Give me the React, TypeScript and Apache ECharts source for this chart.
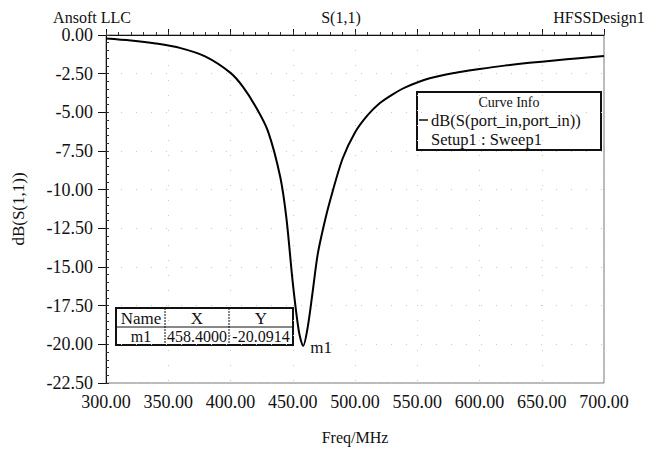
import React, { useEffect, useRef } from "react";
import * as echarts from "echarts";

const freqMHz = [300, 320, 340, 360, 380, 400, 410, 420, 430, 440, 445, 450, 455, 458.4, 462, 466, 470, 475, 480, 490, 500, 510, 520, 530, 540, 560, 580, 600, 620, 640, 660, 680, 700];
const dbS11 = [-0.22, -0.35, -0.55, -0.85, -1.4, -2.45, -3.35, -4.6, -6.2, -9.2, -11.9, -16.0, -19.2, -20.0914, -18.9, -16.6, -14.2, -12.3, -10.7, -8.0, -6.3, -5.2, -4.4, -3.85, -3.4, -2.8, -2.45, -2.2, -1.98, -1.8, -1.65, -1.5, -1.35];

const markerName = "m1";
const markerX = 458.4;
const markerY = -20.0914;

const titleLeft = "Ansoft LLC";
const titleCenter = "S(1,1)";
const titleRight = "HFSSDesign1";
const seriesName = "dB(S(port_in,port_in))";
const setupName = "Setup1 : Sweep1";

const FONT = "'Liberation Serif', 'Times New Roman', serif";

export default function App() {
  const ref = useRef<HTMLDivElement>(null);
  useEffect(() => {
    if (!ref.current) return;
    const chart = echarts.init(ref.current, null, { renderer: "svg" });
    const data = freqMHz.map((f, i) => [f, dbS11[i]]);
    const txt = (x: number, y: number, text: string, size: number, align = "center") => ({
      type: "text",
      x,
      y,
      style: { text, fill: "#111", font: `${size}px ${FONT}`, align, verticalAlign: "middle" },
    });
    chart.setOption({
      animation: false,
      backgroundColor: "#fff",
      textStyle: { fontFamily: FONT },
      grid: { left: 106, right: 61, top: 35, bottom: 66, show: true, borderColor: "#777", borderWidth: 1 },
      xAxis: [
        {
          type: "value",
          min: 300,
          max: 700,
          interval: 50,
          name: "Freq/MHz",
          nameLocation: "middle",
          nameGap: 46,
          nameTextStyle: { fontFamily: FONT, fontSize: 16, color: "#111" },
          axisLine: { lineStyle: { color: "#111", width: 1 } },
          axisTick: { show: true, inside: true, length: 6, lineStyle: { color: "#111" } },
          axisLabel: { fontFamily: FONT, fontSize: 18, color: "#111", margin: 10, formatter: (v: number) => v.toFixed(2) },
          splitLine: { show: true, lineStyle: { color: "#c8c8c8", type: [1, 14] } },
        },
        {
          type: "value",
          min: 300,
          max: 700,
          interval: 10,
          position: "bottom",
          axisLine: { show: false },
          axisTick: { show: true, inside: true, length: 3, lineStyle: { color: "#333" } },
          axisLabel: { show: false },
          splitLine: { show: false },
        },
      ],
      yAxis: [
        {
          type: "value",
          min: -22.5,
          max: 0,
          interval: 2.5,
          name: "dB(S(1,1))",
          nameLocation: "middle",
          nameGap: 79,
          nameTextStyle: { fontFamily: FONT, fontSize: 17, color: "#111" },
          axisLine: { show: true, lineStyle: { color: "#111", width: 1 } },
          axisTick: { show: true, inside: false, length: 8, lineStyle: { color: "#111" } },
          axisLabel: { fontFamily: FONT, fontSize: 18, color: "#111", margin: 13, formatter: (v: number) => v.toFixed(2) },
          splitLine: { show: true, lineStyle: { color: "#c8c8c8", type: [1, 14] } },
        },
        {
          type: "value",
          min: -22.5,
          max: 0,
          interval: 0.5,
          position: "left",
          axisLine: { show: false },
          axisTick: { show: true, inside: true, length: 3, lineStyle: { color: "#333" } },
          axisLabel: { show: false },
          splitLine: { show: false },
        },
      ],
      series: [
        {
          type: "line",
          name: seriesName,
          data,
          xAxisIndex: 0,
          yAxisIndex: 0,
          showSymbol: false,
          smooth: 0.3,
          lineStyle: { color: "#000", width: 2 },
          markPoint: {
            symbol: "circle",
            symbolSize: 0,
            data: [{ coord: [markerX, markerY], name: markerName }],
            label: {
              show: true,
              formatter: markerName,
              position: "right",
              offset: [2, 2],
              fontFamily: FONT,
              fontSize: 17,
              color: "#111",
            },
          },
        },
      ],
      graphic: [
        txt(92, 17, titleLeft, 16),
        txt(341, 17, titleCenter, 16),
        txt(599, 17, titleRight, 16),
        // marker table
        { type: "rect", shape: { x: 116, y: 308, width: 177, height: 37 }, style: { fill: "#fff", stroke: "#111", lineWidth: 2 } },
        { type: "line", shape: { x1: 116, y1: 327, x2: 293, y2: 327 }, style: { stroke: "#111", lineWidth: 1 } },
        { type: "line", shape: { x1: 165, y1: 308, x2: 165, y2: 345 }, style: { stroke: "#111", lineWidth: 1, lineDash: [2, 1] } },
        { type: "line", shape: { x1: 229, y1: 308, x2: 229, y2: 345 }, style: { stroke: "#111", lineWidth: 1, lineDash: [2, 1] } },
        txt(141, 318, "Name", 17),
        txt(197, 318, "X", 17),
        txt(261, 318, "Y", 17),
        txt(141, 336, markerName, 16),
        txt(197, 336, markerX.toFixed(4), 16),
        txt(261, 336, markerY.toFixed(4), 16),
        // curve info
        { type: "rect", shape: { x: 417, y: 92, width: 184, height: 58 }, style: { fill: "#fff", stroke: "#111", lineWidth: 2 } },
        txt(509, 102, "Curve Info", 14),
        { type: "line", shape: { x1: 419, y1: 120, x2: 428, y2: 120 }, style: { stroke: "#111", lineWidth: 1.5 } },
        txt(431, 120, seriesName, 16.5, "left"),
        txt(431, 139, setupName, 16.5, "left"),
      ],
    });
    return () => chart.dispose();
  }, []);
  return <div ref={ref} style={{ position: "absolute", left: 0, top: 0, width: 665, height: 450 }} />;
}
